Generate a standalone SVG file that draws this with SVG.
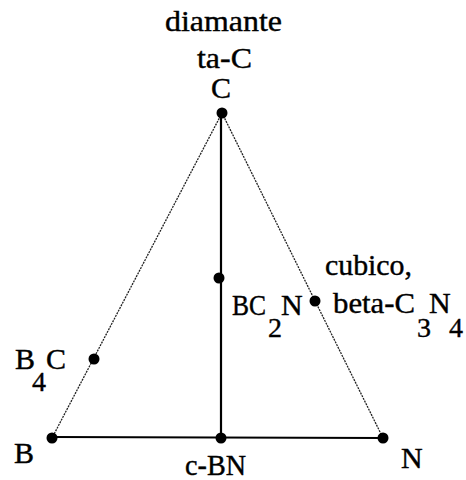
<svg xmlns="http://www.w3.org/2000/svg" width="466" height="480" viewBox="0 0 466 480">
<style>
.thin{stroke:#222;stroke-width:1.3;stroke-dasharray:2 1}
.thick{stroke:#000;stroke-width:2.2}
.dot{fill:#000}
.t{font-family:"Liberation Serif","Times New Roman",serif;font-size:30px;fill:#000;stroke:#000;stroke-width:0.4}
.s{font-size:28px}
</style>
<rect width="466" height="480" fill="#fff"/>
<g id="connectors">
<line class="thin" x1="222" y1="113" x2="52" y2="438"/>
<line class="thin" x1="222" y1="113" x2="383" y2="438"/>
<line class="thick" x1="221" y1="113" x2="221" y2="438"/>
<line class="thick" x1="52" y1="437" x2="383" y2="438"/>
</g>
<g id="title">
<text class="t" x="165" y="31" textLength="117" lengthAdjust="spacingAndGlyphs">diamante</text>
<text class="t" x="197" y="68" textLength="55" lengthAdjust="spacingAndGlyphs">ta-C</text>
</g>
<g id="node-C">
<circle class="dot" cx="222" cy="113" r="5.5"/>
<text class="t" x="221" y="98" text-anchor="middle">C</text>
</g>
<g id="node-BC2N">
<circle class="dot" cx="219" cy="278" r="5.5"/>
<text class="t" x="232" y="315" textLength="34" lengthAdjust="spacingAndGlyphs">BC</text>
<text class="t s" x="268" y="337">2</text>
<text class="t" x="281" y="315">N</text>
</g>
<g id="node-C3N4">
<circle class="dot" cx="315" cy="301" r="5.5"/>
<text class="t" x="325" y="275" textLength="87" lengthAdjust="spacingAndGlyphs">cubico,</text>
<text class="t" x="333" y="313" textLength="82" lengthAdjust="spacingAndGlyphs">beta-C</text>
<text class="t s" x="417" y="337">3</text>
<text class="t" x="429" y="313">N</text>
<text class="t s" x="449" y="337">4</text>
</g>
<g id="node-B4C">
<circle class="dot" cx="94" cy="359" r="5.5"/>
<text class="t" x="15" y="369">B</text>
<text class="t s" x="32" y="391">4</text>
<text class="t" x="46" y="369">C</text>
</g>
<g id="node-B">
<circle class="dot" cx="52" cy="438" r="5.5"/>
<text class="t" x="14" y="463">B</text>
</g>
<g id="node-cBN">
<circle class="dot" cx="221" cy="438" r="5.5"/>
<text class="t" x="185" y="475" textLength="61" lengthAdjust="spacingAndGlyphs">c-BN</text>
</g>
<g id="node-N">
<circle class="dot" cx="383" cy="438" r="5.5"/>
<text class="t" x="401" y="468">N</text>
</g>
</svg>
